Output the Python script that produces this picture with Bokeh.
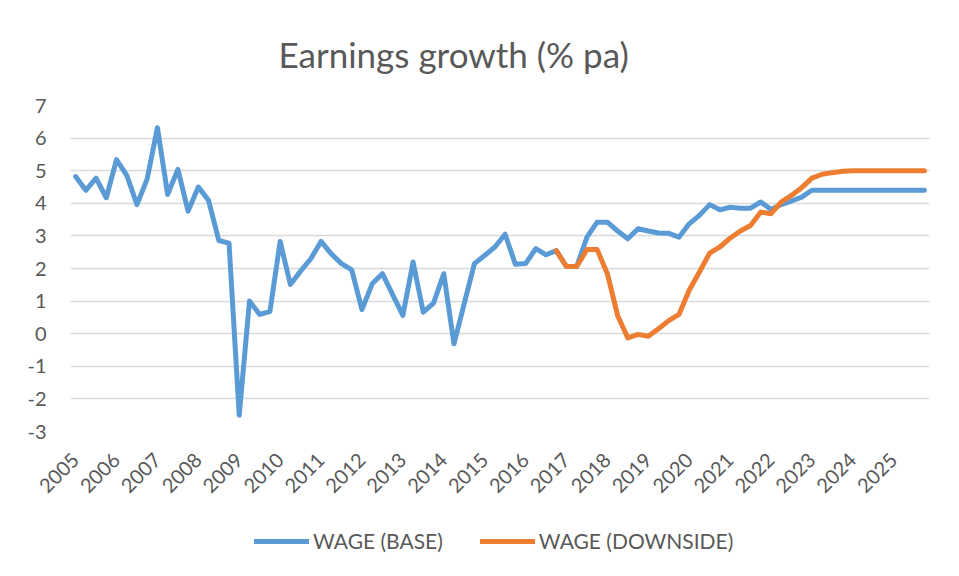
import math
from bokeh.plotting import figure
from bokeh.layouts import column
from bokeh.models import Range1d, FixedTicker, Legend, LegendItem
from bokeh.embed import file_html
from bokeh.resources import INLINE

# Tick labels (one per year, first quarter of each year)
years = [str(y) for y in range(2005, 2026)]

# Quarterly series 2005Q1 .. 2025Q4 (84 quarters)
wage_base = [
    4.82, 4.40, 4.77, 4.17, 5.34, 4.86, 3.96, 4.75, 6.32, 4.27, 5.04, 3.76, 4.50, 4.09, 2.86,
    2.78, -2.50, 1.00, 0.59, 0.68, 2.83, 1.51, 1.92, 2.30, 2.83, 2.45, 2.15, 1.96, 0.74, 1.53,
    1.84, 1.20, 0.56, 2.20, 0.66, 0.94, 1.84, -0.31, 0.92, 2.15, 2.40, 2.66, 3.05, 2.13, 2.15,
    2.61, 2.42, 2.55, 2.06, 2.06, 2.96, 3.42, 3.42, 3.15, 2.91, 3.22, 3.15, 3.09, 3.08, 2.96,
    3.37, 3.63, 3.96, 3.80, 3.88, 3.85, 3.85, 4.04, 3.81, 3.96, 4.07, 4.19,
    4.40, 4.40, 4.40, 4.40, 4.40, 4.40, 4.40, 4.40, 4.40, 4.40, 4.40, 4.40,
]
nan = float("nan")
wage_down = [nan] * 47 + [
    2.55, 2.06, 2.06, 2.58, 2.58, 1.84, 0.56, -0.13, -0.02, -0.08, 0.15, 0.40, 0.59,
    1.33, 1.89, 2.47, 2.66, 2.93, 3.15, 3.32, 3.73, 3.68, 4.04, 4.24, 4.48, 4.77, 4.89,
    4.94, 4.98, 5.00, 5.00, 5.00, 5.00, 5.00, 5.00, 5.00, 5.00,
]
series_names = ["WAGE (BASE)", "WAGE (DOWNSIDE)"]
series_colors = ["#5B9BD5", "#ED7D31"]
quarters = list(range(len(wage_base)))
y_ticks = list(range(-3, 8))
y_labels = [str(v) for v in y_ticks]

TXT = "#595959"
FONT = "Lato"
W = 955

p = figure(width=W, height=505, output_backend="svg", toolbar_location=None,
           x_range=Range1d(-0.5, len(quarters) - 0.5), y_range=Range1d(-3, 7),
           min_border_left=70, min_border_right=26, min_border_top=104, min_border_bottom=74)
p.outline_line_color = None

p.title.text = "Earnings growth (% pa)"
p.title.text_font = FONT
p.title.text_font_size = "35px"
p.title.text_font_style = "normal"
p.title.text_color = TXT
p.title.align = "left"
p.title.offset = 208
p.title.standoff = 61

p.line(quarters, wage_base, line_color=series_colors[0], line_width=5,
       line_join="round", line_cap="round")
p.line(quarters, wage_down, line_color=series_colors[1], line_width=5,
       line_join="round", line_cap="round")

p.xaxis.ticker = FixedTicker(ticks=[i * 4 for i in range(len(years))])
p.xaxis.major_label_overrides = {i * 4: years[i] for i in range(len(years))}
p.xaxis.major_label_orientation = math.pi / 4
p.xaxis.axis_line_color = None
p.xaxis.major_tick_line_color = None
p.xaxis.minor_tick_line_color = None
p.xaxis.major_label_standoff = 19
p.xaxis.major_label_text_font = FONT
p.xaxis.major_label_text_font_size = "20px"
p.xaxis.major_label_text_color = TXT

p.yaxis.ticker = FixedTicker(ticks=y_ticks)
p.yaxis.major_label_overrides = {v: s for v, s in zip(y_ticks, y_labels)}
p.yaxis.axis_line_color = None
p.yaxis.major_tick_line_color = None
p.yaxis.minor_tick_line_color = None
p.yaxis.major_label_standoff = 18
p.yaxis.major_label_text_font = FONT
p.yaxis.major_label_text_font_size = "20px"
p.yaxis.major_label_text_color = TXT

p.xgrid.grid_line_color = None
p.ygrid.ticker = FixedTicker(ticks=y_ticks)
p.ygrid.grid_line_color = "#d9d9d9"
p.ygrid.grid_line_width = 1.5

# Legend strip below the chart (its renderers sit outside its visible range)
lg = figure(width=W, height=67, output_backend="svg", toolbar_location=None,
            x_range=Range1d(0, 1), y_range=Range1d(0, 1),
            min_border_left=0, min_border_right=0, min_border_top=0, min_border_bottom=0)
lg.axis.visible = False
lg.grid.visible = False
lg.outline_line_color = None
items = []
for name, col in zip(series_names, series_colors):
    r = lg.line([-10, -9], [-10, -9], line_color=col, line_width=5, line_cap="round")
    items.append(LegendItem(label=name, renderers=[r]))
legend = Legend(items=items, orientation="horizontal", location=(184, 19))
legend.label_text_font = FONT
legend.label_text_font_size = "21px"
legend.label_text_color = TXT
legend.glyph_width = 55
legend.label_standoff = 4
legend.spacing = 37
legend.border_line_color = None
legend.background_fill_alpha = 0
legend.margin = 0
legend.padding = 0
lg.add_layout(legend, "center")

page = column(p, lg, spacing=0)
open("out.html", "w").write(file_html(page, INLINE))
